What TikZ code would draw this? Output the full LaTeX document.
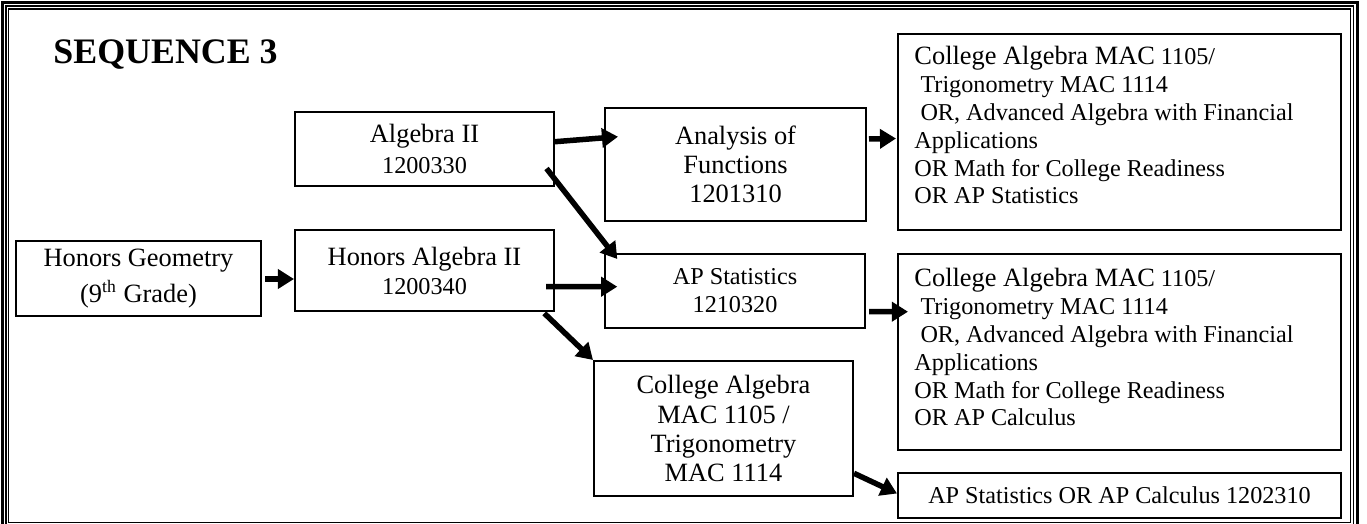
\documentclass[tikz,border=0pt]{standalone}
\usepackage{fontspec}
\setmainfont{Liberation Serif}
\usetikzlibrary{arrows.meta,calc}
% one drawing unit = one pixel of the 1367 x 524 sheet
\newdimen\pxu \pxu=0.454545pt

\begin{document}
\begin{tikzpicture}[x=0.454545pt,y=-0.454545pt,
  box/.style={draw,line width=2\pxu,inner sep=0pt,align=center},
  conn/.style={line width=5.5\pxu,-{Triangle[length=7.3pt,width=8.6pt]}},
  twelve/.style={font=\fontsize{12}{13.2}\selectfont},
  eleven/.style={font=\fontsize{11}{12.65}\selectfont},
  listtext/.style={anchor=north west,inner sep=0pt,align=left,
    font=\fontsize{11}{12.65}\selectfont}]

\useasboundingbox (0,0) rectangle (1367,524);
\clip (0,0) rectangle (1367,524);

% page frame: thick outer rule and two thin inner rules
\draw[line width=3\pxu] (2.5,2.8) rectangle (1357.7,540);
\draw[line width=1.3\pxu] (6,6) rectangle (1353.7,535);
\draw[line width=1.5\pxu] (8.7,9) rectangle (1350.7,522.3);

% heading
\node[anchor=base west,inner sep=0pt,font=\bfseries\fontsize{16.3}{16}\selectfont]
  (title) at (53,64) {SEQUENCE 3};

% course boxes
\node[box,twelve,minimum width=245\pxu,minimum height=75\pxu] (hg) at (138.5,278.5)
  {Honors Geometry\\[3pt](9\textsuperscript{th} Grade)};
\node[box,twelve,minimum width=259\pxu,minimum height=74\pxu] (alg2) at (424.5,149)
  {Algebra II\\[0.5pt]{\fontsize{11}{12}\selectfont 1200330}};
\node[box,twelve,minimum width=259\pxu,minimum height=81\pxu] (ha) at (424.5,270.5)
  {Honors Algebra II\\{\fontsize{11}{12}\selectfont 1200340}};
\node[box,twelve,minimum width=261\pxu,minimum height=113\pxu] (ana) at (735.5,164.5)
  {Analysis of\\Functions\\1201310};
\node[box,eleven,minimum width=260\pxu,minimum height=74\pxu] (aps) at (735,291)
  {AP Statistics\\1210320};
\node[box,twelve,minimum width=259\pxu,minimum height=135\pxu] (cat) at (723.5,428.5)
  {College Algebra\\MAC 1105 /\\Trigonometry\\MAC 1114};

% option boxes on the right
\node[box,minimum width=443\pxu,minimum height=196\pxu] (r1) at (1119.5,132) {};
\node[listtext] (r1t) at (914,46)
  {{\fontsize{12}{12.65}\selectfont College Algebra MAC} 1105/\\
   \hspace*{0.25em}Trigonometry MAC 1114\\
   \hspace*{0.25em}OR, Advanced Algebra with Financial\\
   Applications\\
   OR Math for College Readiness\\
   OR AP Statistics};

\node[box,minimum width=443\pxu,minimum height=196\pxu] (r2) at (1119.5,352) {};
\node[listtext] (r2t) at (914,268)
  {{\fontsize{12}{12.65}\selectfont College Algebra MAC} 1105/\\
   \hspace*{0.25em}Trigonometry MAC 1114\\
   \hspace*{0.25em}OR, Advanced Algebra with Financial\\
   Applications\\
   OR Math for College Readiness\\
   OR AP Calculus};

\node[box,eleven,minimum width=443\pxu,minimum height=45\pxu] (r3) at (1119.5,495.5)
  {AP Statistics OR AP Calculus 1202310};

% connectors
\draw[conn] ($(hg.east)+(3,0.5)$) -- ($(ha.west)+(0,8.5)$);
\draw[conn] ($(alg2.east)+(0,-7.3)$) -- ($(ana.west)+(14,-27.8)$);
\draw[conn] ($(alg2.south east)+(-8.5,-18.5)$) -- ($(aps.north west)+(13.3,6)$);
\draw[conn] ($(ha.east)+(-9,16.2)$) -- ($(aps.west)+(13.3,-4.3)$);
\draw[conn] ($(ha.south east)+(-10.7,1.3)$) -- (cat.north west);
\draw[conn] ($(ana.east)+(2,-25.5)$) -- ($(r1.west)+(-1,6.5)$);
\draw[conn] ($(aps.east)+(3,20.7)$) -- ($(r2.west)+(11,-40.3)$);
\draw[conn] ($(cat.east)+(0,44.8)$) -- ($(r3.west)+(0,-2)$);

\end{tikzpicture}
\end{document}
